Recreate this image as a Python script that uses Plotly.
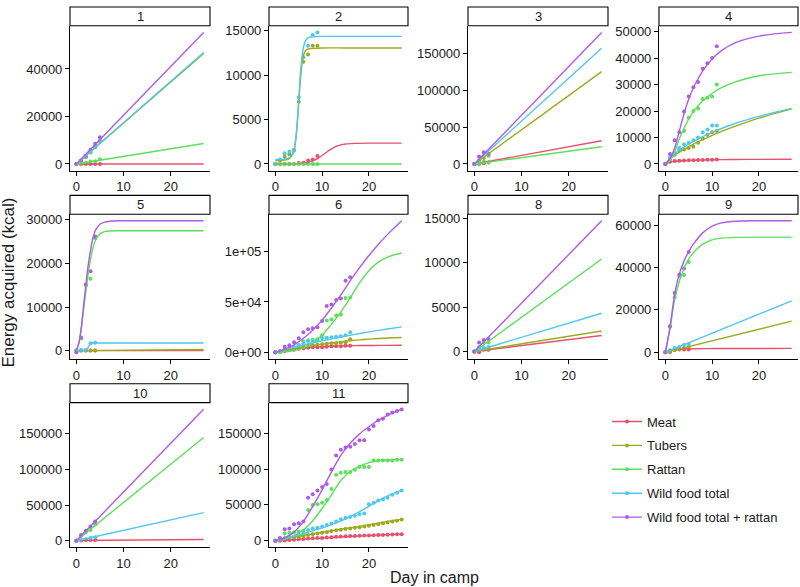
import plotly.graph_objects as go

# ---------------- data ----------------
SERIES = ["Meat", "Tubers", "Rattan", "Wild food total", "Wild food total + rattan"]
COLORS = ["#E8506E", "#9DAA1E", "#5BE05B", "#50C8EE", "#AE5BE8"]
CAMPS = ["1", "2", "3", "4", "5", "6", "8", "9", "10", "11"]
X_TICKS = [0, 10, 20]

# observed points: days + cumulative energy per series
camp1_days = [0, 1, 2, 3, 4, 5]
camp1_obs = {
    "Meat": [0, 0, 0, 0, 0, 0],
    "Tubers": [0, 1500, 2800, 4800, 7000, 9500],
    "Rattan": [0, 0, 500, 1000, 1200, 2000],
    "Wild food total": [0, 1500, 3000, 5000, 7500, 10000],
    "Wild food total + rattan": [0, 1500, 3500, 6000, 8500, 11300],
}
camp1_fit = {
    "Meat": ([0, 27], [0, 0]),
    "Tubers": ([0, 27], [0, 46500]),
    "Rattan": ([0, 27], [0, 8600]),
    "Wild food total": ([0, 27], [0, 46900]),
    "Wild food total + rattan": ([0, 27], [0, 55400]),
}

camp2_days = [0, 1, 2, 3, 4, 5, 6, 7, 8, 9]
camp2_obs = {
    "Meat": [0, 0, 0, 0, 0, 100, 150, 400, 500, 900],
    "Tubers": [0, 400, 800, 1100, 1600, 7000, 11500, 12300, 13300, 13300],
    "Rattan": [0, 0, 0, 0, 0, 0, 0, 0, 0, 0],
    "Wild food total": [0, 500, 1200, 1400, 1500, 7500, 12000, 13300, 14500, 14800],
}
camp2_fit = {
    "Meat": ([0, 3, 5, 6, 7, 8, 9, 10, 11, 12, 13, 14, 15, 17, 20, 27],
             [0, 0, 30, 80, 180, 350, 600, 950, 1350, 1700, 1980, 2150, 2250, 2320, 2350, 2350]),
    "Tubers": ([0, 1, 2, 3, 3.5, 4, 4.5, 5, 5.5, 6, 6.5, 7, 8, 10, 15, 27],
               [400, 400, 430, 600, 900, 1500, 3300, 6800, 10300, 12200, 12800, 12950, 13000, 13050, 13050, 13050]),
    "Rattan": ([0, 27], [0, 0]),
    "Wild food total": ([0, 1, 2, 3, 3.5, 4, 4.5, 5, 5.5, 6, 6.5, 7, 8, 10, 15, 27],
                        [500, 500, 530, 700, 1000, 1600, 3600, 7300, 11100, 13100, 13900, 14200, 14300, 14350, 14350, 14350]),
}

camp3_days = [0, 1, 2, 3]
camp3_obs = {
    "Meat": [0, 0, 1000, 2000],
    "Tubers": [0, 4000, 8000, 11000],
    "Rattan": [0, 1000, 3000, 2000],
    "Wild food total": [0, 5000, 15000, 12000],
    "Wild food total + rattan": [0, 10000, 16000, 14000],
}
camp3_fit = {
    "Meat": ([0, 27], [0, 31400]),
    "Tubers": ([0, 27], [0, 125000]),
    "Rattan": ([0, 27], [0, 23300]),
    "Wild food total": ([0, 27], [0, 156500]),
    "Wild food total + rattan": ([0, 27], [0, 178000]),
}

camp4_days = [0, 1, 2, 3, 4, 5, 6, 7, 8, 9, 10, 11]
camp4_obs = {
    "Meat": [0, 800, 1100, 1200, 1300, 1400, 1400, 1500, 1500, 1600, 1600, 1700],
    "Tubers": [0, 2000, 3500, 5000, 5500, 6000, 6500, 8000, 9500, 11000, 12000, 12500],
    "Rattan": [0, 1500, 4000, 5500, 12500, 17500, 20000, 21000, 24500, 25000, 25500, 30000],
    "Wild food total": [0, 2500, 4000, 6000, 7500, 8000, 9000, 10000, 12000, 13000, 14500, 14500],
    "Wild food total + rattan": [0, 3800, 9000, 12000, 19800, 25500, 29000, 31000, 36000, 38000, 40000, 44500],
}
camp4_fit_days = [0, 1, 2, 3, 4, 5, 6, 7, 8, 10, 12, 15, 20, 27]
camp4_fit = {
    "Meat": (camp4_fit_days, [0, 700, 1000, 1150, 1250, 1350, 1400, 1450, 1500, 1600, 1650, 1700, 1750, 1800]),
    "Tubers": (camp4_fit_days, [0, 1800, 3300, 4500, 5500, 6500, 7500, 8400, 9200, 10800, 12300, 14300, 17300, 20800]),
    "Rattan": (camp4_fit_days, [0, 1500, 4500, 9500, 13500, 17000, 19800, 22000, 23800, 26700, 28800, 31000, 33300, 34600]),
    "Wild food total": (camp4_fit_days, [0, 2000, 3800, 5200, 6400, 7500, 8500, 9400, 10300, 11900, 13400, 15400, 18000, 21000]),
    "Wild food total + rattan": (camp4_fit_days, [0, 2000, 6000, 12500, 19000, 24500, 28800, 32200, 35200, 39700, 42800, 45800, 48300, 49700]),
}

camp5_days = [0, 1, 2, 3, 4]
camp5_obs = {
    "Meat": [0, 0, 0, 0, 0],
    "Tubers": [0, 0, 0, 0, 0],
    "Rattan": [-300, 2800, 15000, 16500, 25800],
    "Wild food total": [0, 200, 100, 1700, 1800],
    "Wild food total + rattan": [-400, 3000, 15200, 18200, 26200],
}
camp5_fit_days = [0, 0.5, 1, 1.5, 2, 2.5, 3, 3.5, 4, 5, 6, 7, 9, 12, 27]
camp5_fit = {
    "Meat": ([0, 27], [0, 0]),
    "Tubers": ([0, 27], [0, 250]),
    "Rattan": (camp5_fit_days, [0, 1500, 4500, 9000, 13500, 17500, 21000, 23500, 25200, 26800, 27300, 27450, 27500, 27500, 27500]),
    "Wild food total": ([0, 2, 2.3, 2.6, 3, 3.5, 4, 27], [0, 0, 300, 1000, 1600, 1750, 1750, 1750]),
    "Wild food total + rattan": (camp5_fit_days, [0, 1700, 5000, 10000, 15000, 19500, 23000, 25800, 27500, 29000, 29500, 29700, 29800, 29800, 29800]),
}

camp6_days = list(range(17))
camp6_obs = {
    "Meat": [0, 0, 1000, 2000, 2500, 3500, 4000, 4500, 5000, 5000, 5000, 5500, 6000, 6000, 6000, 6500, 6500],
    "Tubers": [0, 500, 2000, 3000, 4000, 5000, 6000, 6500, 7000, 7500, 8000, 8500, 9000, 9000, 9500, 10000, 13000],
    "Rattan": [0, 0, 2500, 3000, 5000, 7000, 11000, 12000, 12500, 13000, 17000, 31500, 32500, 36500, 37500, 54000, 54500],
    "Wild food total": [0, 1000, 3000, 4000, 5000, 7000, 9000, 11000, 11500, 12000, 14000, 14500, 15000, 15500, 16000, 17000, 20000],
    "Wild food total + rattan": [0, 1000, 5500, 7000, 10000, 14000, 20000, 23000, 24000, 25000, 31000, 46000, 47500, 52000, 53500, 71000, 74500],
}
camp6_fit_days = [0, 2, 4, 6, 8, 10, 12, 14, 16, 18, 20, 22, 24, 27]
camp6_fit = {
    "Meat": (camp6_fit_days, [0, 1800, 3200, 4300, 5100, 5700, 6100, 6400, 6600, 6750, 6850, 6900, 6950, 7000]),
    "Tubers": (camp6_fit_days, [0, 1800, 3600, 5300, 6800, 8200, 9400, 10500, 11500, 12400, 13100, 13700, 14200, 14800]),
    "Rattan": (camp6_fit_days, [0, 600, 1800, 4500, 9500, 17000, 28000, 40000, 54000, 69000, 81000, 89500, 94500, 98500]),
    "Wild food total": (camp6_fit_days, [0, 2500, 5000, 7300, 9500, 11500, 13400, 15200, 17000, 18700, 20300, 21800, 23200, 25300]),
    "Wild food total + rattan": (camp6_fit_days, [0, 3000, 7500, 14000, 22000, 32000, 44000, 57000, 71000, 84000, 96000, 107000, 117000, 130500]),
}

camp8_days = [0, 1, 2, 3]
camp8_obs = {
    "Meat": [0, -100, 200, 200],
    "Tubers": [0, 200, 300, 300],
    "Rattan": [0, 500, 1000, 1000],
    "Wild food total": [0, 300, 400, 500],
    "Wild food total + rattan": [0, 1000, 1300, 1400],
}
camp8_fit = {
    "Meat": ([0, 27], [0, 1800]),
    "Tubers": ([0, 27], [0, 2300]),
    "Rattan": ([0, 27], [0, 10400]),
    "Wild food total": ([0, 27], [0, 4300]),
    "Wild food total + rattan": ([0, 27], [0, 14700]),
}

camp9_days = [0, 1, 2, 3, 4, 5]
camp9_obs = {
    "Meat": [0, 200, 1200, 1300, 1300, 1400],
    "Tubers": [0, 500, 1000, 1500, 2000, 2500],
    "Rattan": [0, 12000, 26000, 36000, 36400, 42600],
    "Wild food total": [0, 1000, 2000, 2500, 3500, 4000],
    "Wild food total + rattan": [0, 12300, 28000, 36700, 39500, 47300],
}
camp9_fit_days = [0, 1, 2, 3, 4, 5, 6, 8, 10, 12, 15, 20, 27]
camp9_fit = {
    "Meat": (camp9_fit_days, [0, 1200, 1450, 1550, 1600, 1650, 1700, 1750, 1800, 1800, 1850, 1850, 1900]),
    "Tubers": ([0, 27], [0, 14700]),
    "Rattan": (camp9_fit_days, [0, 11000, 25000, 33500, 39500, 44000, 47000, 51000, 53000, 53800, 54200, 54300, 54300]),
    "Wild food total": ([0, 27], [0, 24300]),
    "Wild food total + rattan": (camp9_fit_days, [0, 12000, 27500, 37000, 43000, 47500, 51000, 56300, 59500, 61000, 61800, 62000, 62000]),
}

camp10_days = [0, 1, 2, 3, 4]
camp10_obs = {
    "Meat": [0, 500, 1000, 1000, 1000],
    "Rattan": [0, 7000, 12000, 15000, 23000],
    "Wild food total": [0, 1000, 2000, 4000, 5000],
    "Wild food total + rattan": [0, 8000, 14000, 20000, 27000],
}
camp10_fit = {
    "Meat": ([0, 27], [300, 1800]),
    "Rattan": ([0, 27], [0, 145000]),
    "Wild food total": ([0, 27], [0, 39500]),
    "Wild food total + rattan": ([0, 27], [0, 184800]),
}

camp11_days = list(range(28))
camp11_obs = {
    "Meat": [0, 0, 500, 1000, 1500, 2000, 2500, 3000, 3500, 3800, 4000, 4500, 5000, 5500,
             6000, 6200, 6500, 6700, 7000, 7200, 7500, 7800, 8000, 8200, 8500, 8800, 9000, 9200],
    "Tubers": [0, 1000, 2000, 3000, 4000, 5000, 6000, 8000, 9000, 10000, 11000, 12000, 13500, 14500,
               15500, 16500, 17000, 18000, 19000, 20000, 21000, 22000, 23000, 24500, 25500, 27000, 28000, 29500],
    "Rattan": [0, 3000, 10000, 11000, 12000, 13000, 14000, 43000, 50000, 51000, 53000, 57000, 72000, 92000,
               95000, 96000, 96000, 99000, 103000, 103000, 103000, 112000, 112000, 112000, 112000, 112000, 113000, 113000],
    "Wild food total": [0, 1000, 4000, 5000, 6000, 9000, 10000, 15000, 17000, 18000, 20000, 22000, 24000, 27000,
                        30000, 32000, 33000, 35000, 37000, 38000, 51000, 53000, 56000, 58000, 60000, 64000, 67000, 70000],
    "Wild food total + rattan": [0, 4000, 16000, 17000, 23000, 24500, 27000, 60000, 65000, 70000, 75000, 79000, 99500, 119000,
                                 127000, 130000, 131000, 135000, 140000, 140000, 155000, 160000, 168000, 170000, 176000, 179000, 181000, 183000],
}
camp11_fit_days = [0, 2, 4, 6, 8, 10, 12, 14, 16, 18, 20, 22, 24, 27]
camp11_fit = {
    "Meat": (camp11_fit_days, [0, 700, 1500, 2300, 3000, 3800, 4500, 5200, 5900, 6600, 7300, 7900, 8500, 9400]),
    "Tubers": (camp11_fit_days, [0, 2500, 5000, 7400, 9700, 11900, 14000, 16000, 18000, 20000, 22300, 24600, 26800, 30000]),
    "Rattan": (camp11_fit_days, [0, 2500, 7000, 15000, 28000, 45000, 64000, 84000, 96500, 104000, 109000, 112000, 113000, 113500]),
    "Wild food total": (camp11_fit_days, [0, 3000, 6500, 10000, 14000, 18000, 22500, 27500, 33500, 40500, 48000, 55500, 62500, 70500]),
    "Wild food total + rattan": (camp11_fit_days, [0, 4000, 12000, 27000, 48000, 71000, 96000, 119000, 136000, 149000, 159000, 168000, 175000, 183500]),
}

Y_TICKS = {
    "1": [0, 20000, 40000],
    "2": [0, 5000, 10000, 15000],
    "3": [0, 50000, 100000, 150000],
    "4": [0, 10000, 20000, 30000, 40000, 50000],
    "5": [0, 10000, 20000, 30000],
    "6": [0, 50000, 100000],
    "8": [0, 5000, 10000, 15000],
    "9": [0, 20000, 40000, 60000],
    "10": [0, 50000, 100000, 150000],
    "11": [0, 50000, 100000, 150000],
}
Y_TICKTEXT_6 = ["0e+00", "5e+04", "1e+05"]

CAMP_DATA = {
    "1": (camp1_days, camp1_obs, camp1_fit),
    "2": (camp2_days, camp2_obs, camp2_fit),
    "3": (camp3_days, camp3_obs, camp3_fit),
    "4": (camp4_days, camp4_obs, camp4_fit),
    "5": (camp5_days, camp5_obs, camp5_fit),
    "6": (camp6_days, camp6_obs, camp6_fit),
    "8": (camp8_days, camp8_obs, camp8_fit),
    "9": (camp9_days, camp9_obs, camp9_fit),
    "10": (camp10_days, camp10_obs, camp10_fit),
    "11": (camp11_days, camp11_obs, camp11_fit),
}

# ---------------- layout geometry ----------------
W, H = 800, 587
COLS = [(70, 210), (269, 408), (468, 608), (659, 798)]
ROWS = [(3, 22, 168), (193, 212, 358), (383, 402, 548)]  # strip top, panel top, panel bottom
FONT = "Liberation Sans, Arial, sans-serif"
TXT = "#1a1a1a"

fig = go.Figure()
layout = dict(
    width=W, height=H, margin=dict(l=0, r=0, t=0, b=0),
    paper_bgcolor="white", plot_bgcolor="white",
    font=dict(family=FONT, size=13, color=TXT),
    shapes=[], annotations=[],
)

for i, camp in enumerate(CAMPS):
    idx = i + 1
    r, c = divmod(i, 4)
    xa = "x" if idx == 1 else f"x{idx}"
    ya = "y" if idx == 1 else f"y{idx}"
    days, obs, fit = CAMP_DATA[camp]

    allv = []
    # points first
    for s, col in zip(SERIES, COLORS):
        if s in obs:
            fig.add_trace(go.Scatter(
                x=days, y=obs[s], mode="markers", xaxis=xa, yaxis=ya,
                marker=dict(color=col, size=4), showlegend=False, hoverinfo="skip"))
            allv += [v for v in obs[s] if v is not None]
    # fitted curves
    for s, col in zip(SERIES, COLORS):
        if s in fit:
            fx, fy = fit[s]
            fig.add_trace(go.Scatter(
                x=fx, y=fy, mode="lines", xaxis=xa, yaxis=ya,
                line=dict(color=col, width=1.4, shape="spline", smoothing=0.9),
                showlegend=False, hoverinfo="skip"))
            allv += list(fy)
    lo, hi = min(allv), max(allv)
    pad = 0.05 * (hi - lo)

    x0, x1 = COLS[c]
    st, pt, pb = ROWS[r]
    ax_common = dict(showline=True, linecolor="black", linewidth=1.1, ticks="outside",
                     ticklen=4, tickwidth=1, tickcolor="black", showgrid=False, zeroline=False,
                     tickfont=dict(family=FONT, size=13, color=TXT))
    layout["xaxis" if idx == 1 else f"xaxis{idx}"] = dict(
        domain=[x0 / W, x1 / W], anchor=ya, range=[-1.35, 28.35],
        tickmode="array", tickvals=X_TICKS, **ax_common)
    yax = dict(domain=[1 - pb / H, 1 - pt / H], anchor=xa, range=[lo - pad, hi + pad],
               tickmode="array", tickvals=Y_TICKS[camp], **ax_common)
    if camp == "6":
        yax["ticktext"] = Y_TICKTEXT_6
    else:
        yax["ticktext"] = [str(v) for v in Y_TICKS[camp]]
    layout["yaxis" if idx == 1 else f"yaxis{idx}"] = yax

    # strip
    layout["shapes"].append(dict(type="rect", xref="paper", yref="paper",
                                 x0=x0 / W, x1=x1 / W, y0=1 - pt / H, y1=1 - st / H,
                                 line=dict(color="black", width=1.1), fillcolor="white"))
    layout["annotations"].append(dict(text=camp, xref="paper", yref="paper",
                                      x=(x0 + x1) / 2 / W, y=1 - (st + pt) / 2 / H,
                                      showarrow=False, xanchor="center", yanchor="middle",
                                      font=dict(family=FONT, size=13, color=TXT)))

# legend entries
for s, col in zip(SERIES, COLORS):
    fig.add_trace(go.Scatter(x=[None], y=[None], mode="lines+markers", name=s,
                             line=dict(color=col, width=1.4), marker=dict(color=col, size=4),
                             legendgroup=s, showlegend=True))

layout["legend"] = dict(x=607 / W, y=1 - 406 / H, xanchor="left", yanchor="top",
                        font=dict(family=FONT, size=13, color=TXT), itemwidth=30,
                        tracegroupgap=4, bgcolor="rgba(0,0,0,0)")

# axis titles
layout["annotations"].append(dict(text="Energy acquired (kcal)", xref="paper", yref="paper",
                                  x=9 / W, y=1 - 281 / H, textangle=-90, showarrow=False,
                                  xanchor="center", yanchor="middle",
                                  font=dict(family=FONT, size=17, color=TXT)))
layout["annotations"].append(dict(text="Day in camp", xref="paper", yref="paper",
                                  x=435 / W, y=1 - 578 / H, showarrow=False,
                                  xanchor="center", yanchor="middle",
                                  font=dict(family=FONT, size=16, color=TXT)))

fig.update_layout(**layout)
fig.write_html(
    "out.html",
    config={"displayModeBar": False},
    post_script="document.body.style.margin='0px';document.body.style.overflow='hidden';",
)
